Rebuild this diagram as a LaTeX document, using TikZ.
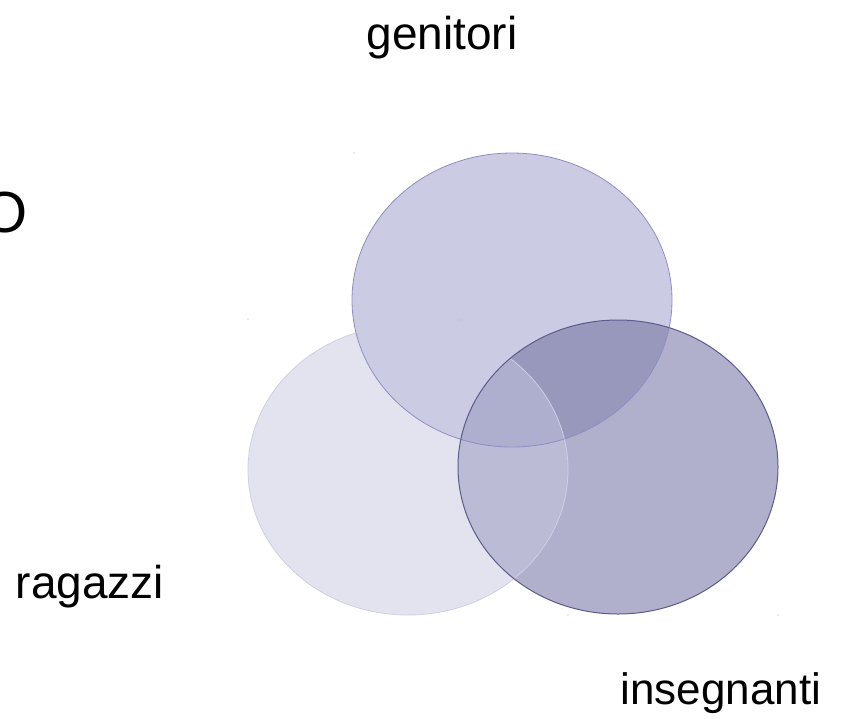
\documentclass[tikz,border=0pt]{standalone}
\usepackage{fontspec}
\setmainfont{Liberation Sans}
\definecolor{leftfill}{HTML}{E3E3F0}
\definecolor{topfill}{HTML}{CBCBE3}
\definecolor{rightfill}{HTML}{B0B0CD}
\definecolor{toprightfill}{HTML}{9898BD}
\definecolor{leftrightfill}{HTML}{BBBBD6}
\definecolor{allfill}{HTML}{AEAECF}
\definecolor{leftline}{HTML}{CFCFE5}
\definecolor{topline}{HTML}{8E8EC4}
\definecolor{rightline}{HTML}{5C5C8C}
\tikzset{
  label text/.style={font=\fontsize{46}{52}\selectfont, anchor=base, inner sep=0pt},
  speck/.style={fill=gray!60}
}
\newcommand{\leftset}{(408,470) ellipse [x radius=160pt, y radius=145pt]}
\newcommand{\topset}{(512,300) ellipse [x radius=160pt, y radius=147pt]}
\newcommand{\rightset}{(618,467) ellipse [x radius=160pt, y radius=147pt]}
\begin{document}
\begin{tikzpicture}[x=1pt,y=-1pt]
  \useasboundingbox (0,0) rectangle (850,718);
  \fill[white] (0,0) rectangle (850,718);
  \begin{scope}
    \clip (0,0) rectangle (850,718);
    \node[label text, font=\fontsize{58}{64}\selectfont, anchor=base east] (title) at (28,232) {O};
  \end{scope}

  % base fills
  \fill[leftfill] \leftset;
  \draw[leftline, line width=0.8pt] \leftset;
  \fill[topfill] \topset;
  \fill[rightfill] \rightset;
  % overlaps
  \begin{scope}
    \clip \rightset;
    \fill[toprightfill] \topset;
  \end{scope}
  \begin{scope}
    \clip \rightset;
    \clip \leftset;
    \fill[leftrightfill] \leftset;
    \clip \topset;
    \fill[allfill] \topset;
  \end{scope}
  \begin{scope}
    \clip \rightset;
    \draw[leftline, line width=0.8pt] \leftset;
  \end{scope}
  % outlines
  \draw[topline, line width=0.8pt] \topset;
  \draw[rightline, line width=1pt] \rightset;

  % small specks
  \foreach \p in {(354,153),(248,319),(459,320),(673,446),(568,615),(778,615)}
    \fill[speck] \p circle (0.7pt);

  \node[label text] (genitori) at (442,49) {genitori};
  \node[label text] (ragazzi) at (90,598) {ragazzi};
  \node[label text, font=\fontsize{44}{50}\selectfont] (insegnanti) at (721,704) {insegnanti};
\end{tikzpicture}
\end{document}
